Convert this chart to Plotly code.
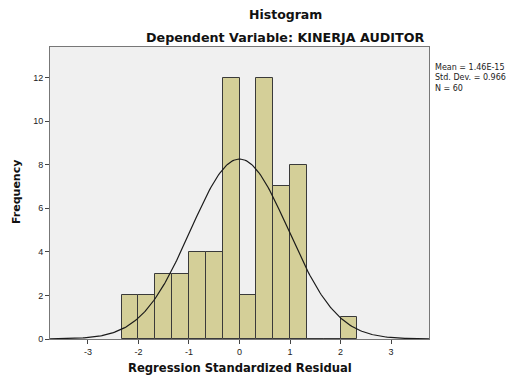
import numpy as np
import plotly.graph_objects as go

# Data
bin_left_edges = [-7/3, -6/3, -5/3, -4/3, -3/3, -2/3, -1/3, 0, 1/3, 2/3, 3/3, 4/3, 5/3, 6/3]
counts = [2, 2, 3, 3, 4, 4, 12, 2, 12, 7, 8, 0, 0, 1]
bin_width = 1/3
mean_val = 1.46e-15
std_dev = 0.966
n_obs = 60
x_ticks = [-3, -2, -1, 0, 1, 2, 3]
y_ticks = [0, 2, 4, 6, 8, 10, 12]

centers = [e + bin_width / 2 for e in bin_left_edges]

# Normal curve scaled to counts
xs = np.linspace(-3.75, 3.75, 300)
ys = n_obs * bin_width / (std_dev * np.sqrt(2 * np.pi)) * np.exp(-0.5 * ((xs - mean_val) / std_dev) ** 2)

fig = go.Figure()
fig.add_trace(go.Bar(
    x=centers, y=counts, width=bin_width,
    marker=dict(color="#d4cf98", line=dict(color="#3a3a3a", width=1)),
    hoverinfo="skip",
))
fig.add_trace(go.Scatter(x=xs, y=ys, mode="lines",
                         line=dict(color="#1a1a1a", width=1.2), hoverinfo="skip"))

font = "Liberation Sans, Arial, sans-serif"
tfont = "DejaVu Sans, sans-serif"
L, R, T, B = 50, 84, 47, 40
W, H = 513, 379
fig.update_layout(
    width=W, height=H,
    margin=dict(l=L, r=R, t=T, b=B),
    paper_bgcolor="white", plot_bgcolor="#f0f0f0",
    showlegend=False, bargap=0,
    font=dict(family=font, size=9, color="#222"),
    xaxis=dict(range=[-3.75, 3.75], tickvals=x_ticks, ticktext=[str(v) for v in x_ticks],
               ticks="outside", ticklen=4, tickcolor="#444", showgrid=False, zeroline=False,
               showline=True, linecolor="#777", linewidth=1, mirror=True,
               tickfont=dict(size=9)),
    yaxis=dict(range=[0, 13.4], tickvals=y_ticks, ticks="outside", ticklen=4, tickcolor="#444",
               showgrid=False, zeroline=False, showline=True, linecolor="#777", linewidth=1,
               mirror=True, tickfont=dict(size=9)),
)

pw, ph = W - L - R, H - T - B
def px(x, y):
    return (x - L) / pw, (H - B - y) / ph

anns = [
    ("<b>Histogram</b>", 285, 14, 12.5, dict()),
    ("<b>Dependent Variable: KINERJA AUDITOR</b>", 285, 37, 12.7, dict()),
    ("<b>Regression Standardized Residual</b>", 240, 368, 11.6, dict()),
    ("<b>Frequency</b>", 16, 192, 11, dict(textangle=-90)),
]
for text, x, y, size, extra in anns:
    ax, ay = px(x, y)
    fig.add_annotation(text=text, x=ax, y=ay, xref="paper", yref="paper",
                       xanchor="center", yanchor="middle",
                       showarrow=False, font=dict(size=size, family=tfont, color="#111"), **extra)
ax, ay = px(433, 61)
fig.add_annotation(text="Mean = 1.46E-15<br>Std. Dev. = 0.966<br>N = 60", x=ax, y=ay,
                   xref="paper", yref="paper", xanchor="left", yanchor="top", align="left",
                   showarrow=False, font=dict(size=8, family=tfont, color="#222"))

fig.write_html("out.html", config={"displayModeBar": False},
               post_script="document.body.style.margin='0';")
